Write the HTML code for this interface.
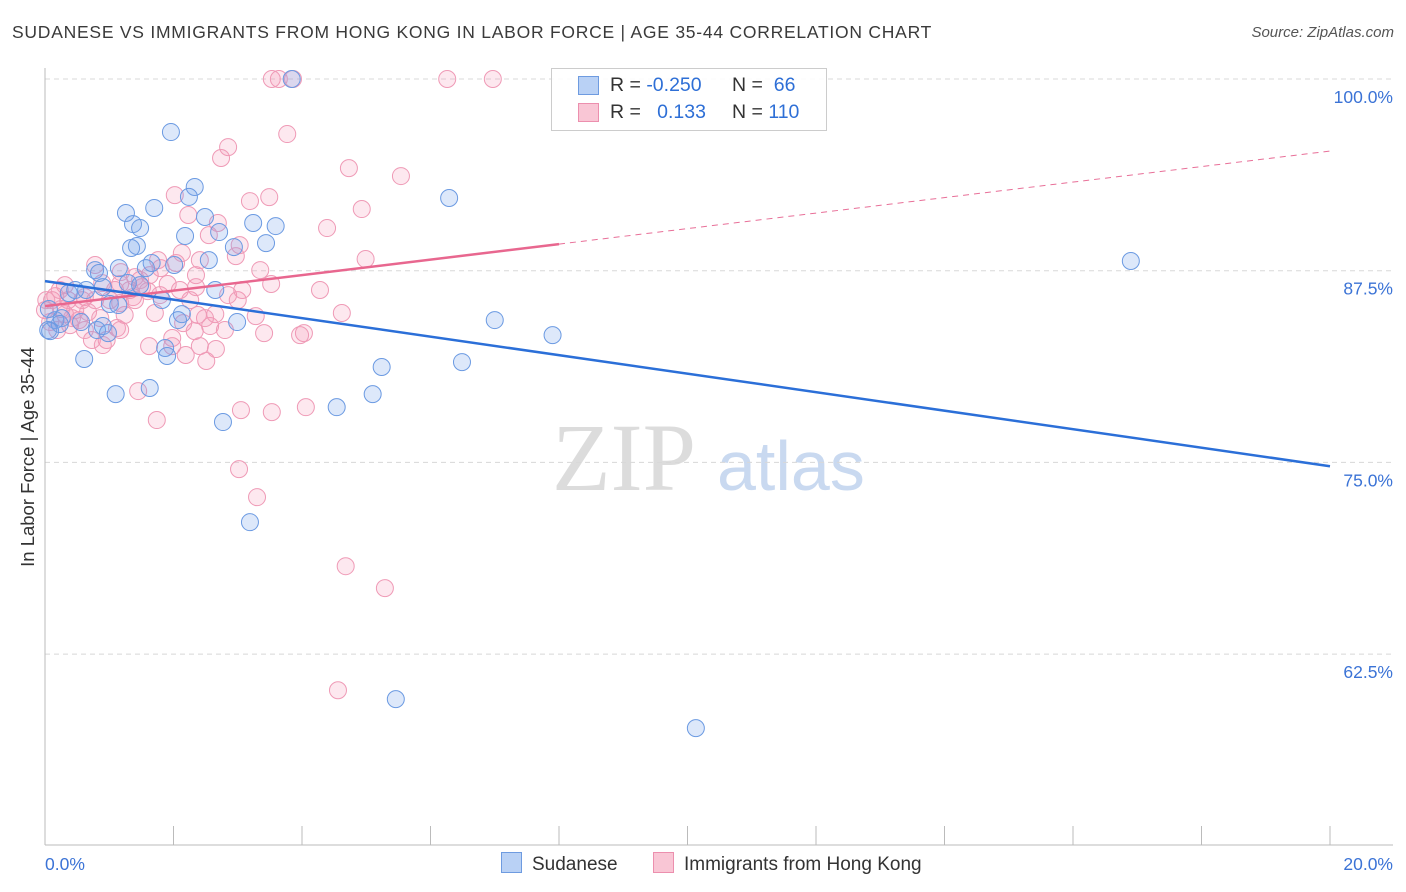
<!DOCTYPE html>
<html><head><meta charset="utf-8"><style>
body{margin:0;background:#fff;font-family:"Liberation Sans",sans-serif;}
#wrap{position:relative;width:1406px;height:892px;overflow:hidden;}
.t{position:absolute;white-space:nowrap;}
</style></head><body><div id="wrap">
<div class="t" style="left:12px;top:22px;font-size:17.5px;color:#3a3a3a;letter-spacing:0.75px">SUDANESE VS IMMIGRANTS FROM HONG KONG IN LABOR FORCE | AGE 35-44 CORRELATION CHART</div>
<div class="t" style="right:12px;top:24px;font-size:15px;color:#555;font-style:italic">Source: ZipAtlas.com</div>
<svg id="chart" width="1406" height="892" style="position:absolute;left:0;top:0"></svg>
</div>
<script>
const yTicks=[100,87.5,75,62.5];
const yTickLabels=["100.0%","87.5%","75.0%","62.5%"];
const xTickLabels=["0.0%","20.0%"];
const blueX=[1.96,2.33,2.24,1.26,1.70,2.49,3.24,3.59,1.37,1.48,2.71,2.18,3.44,1.43,1.34,2.94,2.55,1.66,2.01,0.78,1.15,0.84,1.57,0.90,1.29,0.64,0.37,0.47,1.82,1.01,2.65,2.13,2.99,2.07,0.16,0.05,0.26,0.81,0.90,0.98,1.87,1.90,0.61,5.24,6.49,7.00,7.90,6.29,16.90,1.63,1.10,4.54,5.10,2.77,3.19,5.46,10.13,3.84,0.23,0.08,0.06,0.56,1.48,1.14];
const blueY=[96.54,92.96,92.31,91.26,91.59,91.0,90.61,90.41,90.54,90.28,90.02,89.76,89.30,89.11,88.98,89.04,88.19,88.0,87.87,87.54,87.67,87.35,87.67,86.43,86.70,86.24,86.04,86.24,85.59,85.33,86.24,84.67,84.15,84.28,84.28,83.63,84.41,83.63,83.89,83.43,82.46,81.94,81.74,81.22,81.54,84.28,83.30,92.24,88.13,79.85,79.45,78.60,79.45,77.63,71.10,59.56,57.67,100,84.02,83.56,85.0,84.15,86.56,85.26];
const pinkX=[3.53,3.64,3.86,6.26,6.97,3.77,2.85,2.74,4.73,5.54,2.02,3.49,3.19,4.93,2.23,4.39,2.69,2.55,2.13,2.97,4.99,2.04,1.80,0.78,1.18,1.40,2.35,1.51,1.60,1.17,0.89,2.35,2.85,3.52,3.00,0.16,0.36,0.62,0.47,0.53,1.01,1.37,1.24,1.71,2.15,2.57,2.65,3.28,3.41,4.03,4.62,2.33,1.98,1.12,0.96,0.73,0.39,0.25,0.11,0.31,1.62,1.98,2.41,2.66,2.51,2.19,1.45,1.74,3.05,3.53,4.06,3.02,3.30,4.68,5.29,4.56,0.08,0.19,0.42,0.67,0.86,1.79,1.91,1.48,1.09,1.32,2.49,3.07,0.23,0.0,0.58,1.63,2.26,2.80,2.38,0.90,3.03,3.35,2.10,0.78,1.17,1.76,2.41,3.97,4.28,1.17,1.40,0.62,0.31,0.02];
const pinkY=[100,100,100,100,100,96.41,95.56,94.85,94.19,93.67,92.43,92.30,92.04,91.52,91.13,90.28,90.61,89.82,88.65,88.45,88.26,88.0,87.67,87.87,87.41,87.08,87.21,86.43,86.17,86.63,86.69,86.43,85.91,86.63,85.58,85.84,85.58,85.78,84.93,84.28,85.58,85.78,84.61,84.74,84.08,83.89,84.67,84.54,83.43,83.43,84.74,83.56,83.11,83.76,82.98,82.98,83.95,85.0,85.58,84.67,82.58,82.58,82.58,82.39,81.61,82.0,79.65,77.76,78.41,78.28,78.60,74.56,72.73,68.23,66.80,60.14,84.15,83.63,84.41,84.80,84.41,85.91,86.63,86.89,86.24,86.24,84.41,86.24,86.24,84.93,85.58,87.21,85.58,83.63,84.61,82.65,89.17,87.54,86.24,85.58,85.39,88.19,88.19,83.30,86.24,83.63,85.58,83.63,86.56,85.58];
const blueTrend=[86.82,74.75];
const pinkTrend=[85.19,95.30];
const pinkSolidEnd=8;

const X0=45,X1=1330,Y100=79,PX=15.335;
const sx=v=>X0+(X1-X0)*v/20;
const sy=v=>Y100+(100-v)*PX;
const svg=document.getElementById('chart');
const NS='http://www.w3.org/2000/svg';
function mk(t,a){const e=document.createElementNS(NS,t);for(const k in a)e.setAttribute(k,a[k]);svg.appendChild(e);return e;}

let w=mk('text',{x:552,y:490,'font-size':96,'font-family':'Liberation Serif, serif',fill:'#dcdcdc'});w.textContent='ZIP';


w=mk('text',{x:717,y:490,'font-size':70,'font-family':'Liberation Sans, sans-serif',fill:'#c9d9f0'});w.textContent='atlas';



yTicks.forEach((v,i)=>{
 const g=mk('line',{x1:X0,x2:1393,y1:sy(v),y2:sy(v),stroke:'#d8d8d8','stroke-dasharray':'5,4'});
 
 
 const t=mk('text',{x:1393,y:sy(v)+24,'text-anchor':'end','font-size':17.5,fill:'#3b73d6','font-family':'Liberation Sans, sans-serif'});
 t.textContent=yTickLabels[i];
 
 
});
let a=mk('line',{x1:X0,x2:X0,y1:68,y2:845,stroke:'#bbb'});


a=mk('line',{x1:X0,x2:1393,y1:845,y2:845,stroke:'#bbb'});


for(let i=0;i<=10;i++){const tk=mk('line',{x1:sx(i*2),x2:sx(i*2),y1:826,y2:845,stroke:'#bbb'});
 
 }
let xt=mk('text',{x:45,y:870,'font-size':17.5,fill:'#3b73d6'});xt.textContent=xTickLabels[0];


xt=mk('text',{x:1393,y:870,'font-size':17.5,fill:'#3b73d6','text-anchor':'end'});xt.textContent=xTickLabels[1];


let yl=mk('text',{x:0,y:0,'font-size':18.5,fill:'#333',transform:'translate(34,457) rotate(-90)','text-anchor':'middle'});yl.textContent='In Labor Force | Age 35-44';



pinkX.forEach((x,i)=>{const c=mk('circle',{cx:sx(x),cy:sy(pinkY[i]),r:8.5,fill:'rgba(244,150,180,0.22)',stroke:'#ef9ab6','stroke-width':1});
 
 });
blueX.forEach((x,i)=>{const c=mk('circle',{cx:sx(x),cy:sy(blueY[i]),r:8.5,fill:'rgba(120,165,235,0.25)',stroke:'#6b9ae2','stroke-width':1});
 
 });

const pAt=x=>pinkTrend[0]+(pinkTrend[1]-pinkTrend[0])*x/20;
let l=mk('line',{x1:sx(pinkSolidEnd),y1:sy(pAt(pinkSolidEnd)),x2:sx(20),y2:sy(pinkTrend[1]),stroke:'#e86f98','stroke-width':1,'stroke-dasharray':'6,5'});


l=mk('line',{x1:sx(0),y1:sy(pinkTrend[0]),x2:sx(pinkSolidEnd),y2:sy(pAt(pinkSolidEnd)),stroke:'#e8678f','stroke-width':2.5});


l=mk('line',{x1:sx(0),y1:sy(blueTrend[0]),x2:sx(20),y2:sy(blueTrend[1]),stroke:'#2b6fd8','stroke-width':2.5});


</script>
<div class="t" style="left:551px;top:68px;width:274px;height:61px;border:1px solid #ccc;background:rgba(255,255,255,0.9);font-size:19.5px">
 <div style="position:absolute;left:26px;top:7px;width:19px;height:17px;background:#b9d1f5;border:1px solid #6e9be0"></div>
 <div class="t" style="left:58px;top:5px;color:#333">R = <span style="color:#2e6fd6">-0.250</span></div>
 <div class="t" style="left:180px;top:5px;color:#333">N = <span style="color:#2e6fd6">&nbsp;66</span></div>
 <div style="position:absolute;left:26px;top:34px;width:19px;height:17px;background:#f9c6d5;border:1px solid #ec8fae"></div>
 <div class="t" style="left:58px;top:32px;color:#333">R = <span style="color:#2e6fd6">&nbsp;&nbsp;0.133</span></div>
 <div class="t" style="left:180px;top:32px;color:#333">N = <span style="color:#2e6fd6">110</span></div>
</div>
<div class="t" style="left:501px;top:852px;font-size:19px;color:#333"><span style="display:inline-block;width:19px;height:19px;background:#b9d1f5;border:1px solid #6e9be0;vertical-align:-3px;margin-right:10px"></span>Sudanese</div>
<div class="t" style="left:653px;top:852px;font-size:19px;color:#333"><span style="display:inline-block;width:19px;height:19px;background:#f9c6d5;border:1px solid #ec8fae;vertical-align:-3px;margin-right:10px"></span>Immigrants from Hong Kong</div>
</body></html>
